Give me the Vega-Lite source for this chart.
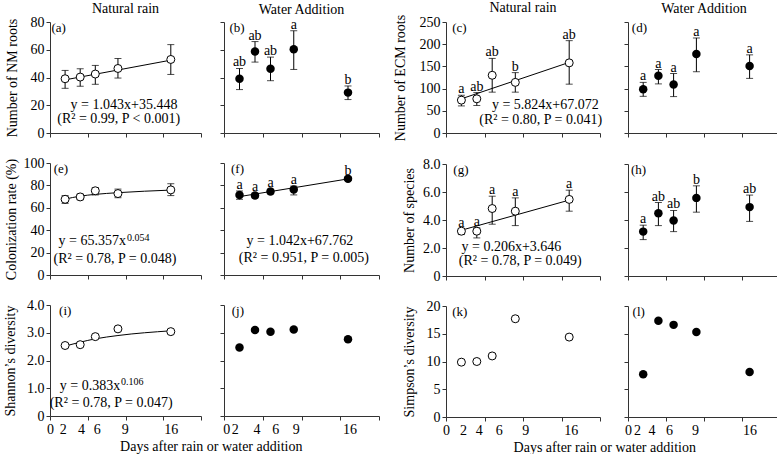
{
"$schema": "https://vega.github.io/schema/vega-lite/v6.json",
"padding": {"left": 2, "top": 1, "right": 0, "bottom": 0},
"config": {
  "font": "Liberation Serif",
  "view": {"stroke": null},
  "axis": {"grid": false, "domainColor": "#333", "tickColor": "#333", "tickSize": 4, "labelFont": "Liberation Serif", "labelFontSize": 14, "labelColor": "#000", "labelFlush": false, "labelOverlap": false, "labelPadding": 2, "titleFont": "Liberation Serif", "titleFontSize": 14, "titleFontWeight": "normal", "titleColor": "#000"},
  "title": {"font": "Liberation Serif", "fontSize": 14, "fontWeight": "normal", "color": "#000"},
  "text": {"font": "Liberation Serif", "fontSize": 14, "color": "#000"}
},
"datasets": {
  "pts": [
    {"panel":"a","day":2,"value":39.1,"lo":32.2,"hi":45.1},
    {"panel":"a","day":4,"value":40.3,"lo":33.7,"hi":46.3},
    {"panel":"a","day":6,"value":42.5,"lo":35.1,"hi":48.7},
    {"panel":"a","day":9,"value":46.5,"lo":39.6,"hi":53.7},
    {"panel":"a","day":16,"value":53.0,"lo":42.2,"hi":63.7},
    {"panel":"b","day":2,"value":39.1,"lo":31.3,"hi":46.5,"letter":"ab"},
    {"panel":"b","day":4,"value":58.7,"lo":51.1,"hi":65.9,"letter":"ab"},
    {"panel":"b","day":6,"value":46.3,"lo":37.7,"hi":54.7,"letter":"ab"},
    {"panel":"b","day":9,"value":60.4,"lo":45.8,"hi":73.7,"letter":"a"},
    {"panel":"b","day":16,"value":29.1,"lo":24.1,"hi":33.9,"letter":"b"},
    {"panel":"c","day":2,"value":74,"lo":61,"hi":85,"letter":"a"},
    {"panel":"c","day":4,"value":77,"lo":62,"hi":91,"letter":"ab"},
    {"panel":"c","day":6,"value":130,"lo":92,"hi":168,"letter":"ab"},
    {"panel":"c","day":9,"value":114,"lo":92,"hi":136,"letter":"b"},
    {"panel":"c","day":16,"value":158,"lo":110,"hi":208,"letter":"ab"},
    {"panel":"d","day":2,"value":98.5,"lo":82.6,"hi":114,"letter":"a"},
    {"panel":"d","day":4,"value":129,"lo":110.6,"hi":143,"letter":"a"},
    {"panel":"d","day":6,"value":109,"lo":82,"hi":134,"letter":"a"},
    {"panel":"d","day":9,"value":178,"lo":138,"hi":214,"letter":"a"},
    {"panel":"d","day":16,"value":151,"lo":123,"hi":176,"letter":"a"},
    {"panel":"e","day":2,"value":67.6,"lo":63.9,"hi":70.9},
    {"panel":"e","day":4,"value":69.7,"lo":67.2,"hi":72.2},
    {"panel":"e","day":6,"value":75.2,"lo":71.5,"hi":78},
    {"panel":"e","day":9,"value":72.7,"lo":69,"hi":76.7},
    {"panel":"e","day":16,"value":76,"lo":70.9,"hi":81.5},
    {"panel":"f","day":2,"value":71.5,"lo":67.6,"hi":75,"letter":"a"},
    {"panel":"f","day":4,"value":70.9,"lo":68.9,"hi":72.9,"letter":"a"},
    {"panel":"f","day":6,"value":74.5,"lo":72.5,"hi":76.5,"letter":"a"},
    {"panel":"f","day":9,"value":76.4,"lo":71.5,"hi":79.4,"letter":"a"},
    {"panel":"f","day":16,"value":86,"lo":84.5,"hi":87.5,"letter":"b"},
    {"panel":"g","day":2,"value":3.2,"lo":2.96,"hi":3.37,"letter":"a"},
    {"panel":"g","day":4,"value":3.2,"lo":2.72,"hi":3.44,"letter":"a"},
    {"panel":"g","day":6,"value":4.82,"lo":3.7,"hi":5.7,"letter":"a"},
    {"panel":"g","day":9,"value":4.63,"lo":3.6,"hi":5.58,"letter":"a"},
    {"panel":"g","day":16,"value":5.47,"lo":4.63,"hi":6.13,"letter":"a"},
    {"panel":"h","day":2,"value":3.17,"lo":2.6,"hi":3.63,"letter":"a"},
    {"panel":"h","day":4,"value":4.49,"lo":3.6,"hi":5.25,"letter":"ab"},
    {"panel":"h","day":6,"value":3.96,"lo":3.17,"hi":4.68,"letter":"ab"},
    {"panel":"h","day":9,"value":5.58,"lo":4.56,"hi":6.44,"letter":"b"},
    {"panel":"h","day":16,"value":4.92,"lo":3.9,"hi":5.78,"letter":"ab"},
    {"panel":"i","day":2,"value":2.54},
    {"panel":"i","day":4,"value":2.57},
    {"panel":"i","day":6,"value":2.86},
    {"panel":"i","day":9,"value":3.14},
    {"panel":"i","day":16,"value":3.04},
    {"panel":"j","day":2,"value":2.47},
    {"panel":"j","day":4,"value":3.10},
    {"panel":"j","day":6,"value":3.04},
    {"panel":"j","day":9,"value":3.12},
    {"panel":"j","day":16,"value":2.77},
    {"panel":"k","day":2,"value":9.88},
    {"panel":"k","day":4,"value":10.0},
    {"panel":"k","day":6,"value":11.0},
    {"panel":"k","day":9,"value":17.7},
    {"panel":"k","day":16,"value":14.4},
    {"panel":"l","day":2,"value":7.7},
    {"panel":"l","day":4,"value":17.35},
    {"panel":"l","day":6,"value":16.6},
    {"panel":"l","day":9,"value":15.3},
    {"panel":"l","day":16,"value":8.1}
  ],
  "fits": [
    {"panel":"a","day":2,"value":38.3},{"panel":"a","day":16,"value":52.5},
    {"panel":"c","day":2,"value":77},{"panel":"c","day":16,"value":159},
    {"panel":"e","day":2,"value":67.8},{"panel":"e","day":4,"value":70.4},{"panel":"e","day":6,"value":72},{"panel":"e","day":9,"value":73.5},{"panel":"e","day":16,"value":75.8},
    {"panel":"f","day":2,"value":70},{"panel":"f","day":16,"value":85.8},
    {"panel":"g","day":2,"value":3.27},{"panel":"g","day":16,"value":5.42},
    {"panel":"i","day":2,"value":2.52},{"panel":"i","day":4,"value":2.66},{"panel":"i","day":6,"value":2.78},{"panel":"i","day":9,"value":2.9},{"panel":"i","day":16,"value":3.07}
  ],
  "notes": [
    {"panel":"a","kind":"tag","text":"(a)"},{"panel":"a","kind":"eq1","text":"y = 1.043x+35.448"},{"panel":"a","kind":"eq2","text":"(R² = 0.99, P < 0.001)"},
    {"panel":"b","kind":"tag","text":"(b)"},
    {"panel":"c","kind":"tag","text":"(c)"},{"panel":"c","kind":"eq1","text":"y = 5.824x+67.072"},{"panel":"c","kind":"eq2","text":"(R² = 0.80, P = 0.041)"},
    {"panel":"d","kind":"tag","text":"(d)"},
    {"panel":"e","kind":"tag","text":"(e)"},{"panel":"e","kind":"eq1","text":"y = 65.357x"},{"panel":"e","kind":"exp","text":"0.054"},{"panel":"e","kind":"eq2","text":"(R² = 0.78, P = 0.048)"},
    {"panel":"f","kind":"tag","text":"(f)"},{"panel":"f","kind":"eq1","text":"y = 1.042x+67.762"},{"panel":"f","kind":"eq2","text":"(R² = 0.951, P = 0.005)"},
    {"panel":"g","kind":"tag","text":"(g)"},{"panel":"g","kind":"eq1","text":"y = 0.206x+3.646"},{"panel":"g","kind":"eq2","text":"(R² = 0.78, P = 0.049)"},
    {"panel":"h","kind":"tag","text":"(h)"},
    {"panel":"i","kind":"tag","text":"(i)"},{"panel":"i","kind":"eq1","text":"y = 0.383x"},{"panel":"i","kind":"exp","text":"0.106"},{"panel":"i","kind":"eq2","text":"(R² = 0.78, P = 0.047)"},
    {"panel":"j","kind":"tag","text":"(j)"},{"panel":"k","kind":"tag","text":"(k)"},{"panel":"l","kind":"tag","text":"(l)"}
  ]
},
"spacing": 12,
"hconcat": [
{
 "title": {"text": "Days after rain or water addition", "orient": "bottom", "anchor": "middle", "offset": 4, "dx": 20, "font": "Liberation Serif"},
 "columns": 2, "align": "each", "spacing": {"row": 16, "column": 17},
 "concat": [
  {"width": 151, "height": 111, "title": {"text": "Natural rain", "offset": -1, "font": "Liberation Serif"},
   "layer": [
    {"data": {"name": "fits"}, "transform": [{"filter": "datum.panel==='a'"}], "mark": {"type": "line", "color": "black", "strokeWidth": 1},
     "encoding": {"x": {"field": "day", "type": "quantitative", "scale": {"domain": [0,20], "nice": false}, "axis": {"values": [0,5,10,15,20], "labels": false, "title": null}}, "y": {"field": "value", "type": "quantitative", "scale": {"domain": [0,80], "nice": false}, "axis": {"values": [0,20,40,60,80], "title": "Number of NM roots", "titleX": -31}}}},
    {"data": {"name": "pts"}, "transform": [{"filter": "datum.panel==='a'"}], "mark": {"type": "errorbar", "color": "black", "ticks": {"size": 7}},
     "encoding": {"x": {"field": "day", "type": "quantitative", "scale": {"domain": [0,20], "nice": false}, "axis": {"values": [0,5,10,15,20], "labels": false, "title": null}}, "y": {"field": "lo", "type": "quantitative", "scale": {"domain": [0,80], "nice": false}, "axis": {"values": [0,20,40,60,80], "title": "Number of NM roots", "titleX": -31}}, "y2": {"field": "hi"}}},
    {"data": {"name": "pts"}, "transform": [{"filter": "datum.panel==='a'"}], "mark": {"type": "circle", "size": 64, "fill": "white", "stroke": "black", "strokeWidth": 1, "opacity": 1},
     "encoding": {"x": {"field": "day", "type": "quantitative", "scale": {"domain": [0,20], "nice": false}, "axis": {"values": [0,5,10,15,20], "labels": false, "title": null}}, "y": {"field": "value", "type": "quantitative", "scale": {"domain": [0,80], "nice": false}, "axis": {"values": [0,20,40,60,80], "title": "Number of NM roots", "titleX": -31}}}},
    {"data": {"name": "notes"}, "transform": [{"filter": "datum.panel==='a'&&datum.kind==='tag'"}], "mark": {"type": "text", "align": "left", "baseline": "top", "fontSize": 13},
     "encoding": {"x": {"datum": 0.2, "type": "quantitative", "scale": {"domain": [0,20], "nice": false}, "axis": {"values": [0,5,10,15,20], "labels": false, "title": null}}, "y": {"datum": 80, "type": "quantitative", "scale": {"domain": [0,80], "nice": false}, "axis": {"values": [0,20,40,60,80], "title": "Number of NM roots", "titleX": -31}}, "text": {"field": "text"}}},
    {"data": {"name": "notes"}, "transform": [{"filter": "datum.panel==='a'&&datum.kind==='eq1'"}], "mark": {"type": "text", "align": "center", "baseline": "middle"},
     "encoding": {"x": {"datum": 9.8, "type": "quantitative", "scale": {"domain": [0,20], "nice": false}, "axis": {"values": [0,5,10,15,20], "labels": false, "title": null}}, "y": {"datum": 20.2, "type": "quantitative", "scale": {"domain": [0,80], "nice": false}, "axis": {"values": [0,20,40,60,80], "title": "Number of NM roots", "titleX": -31}}, "text": {"field": "text"}}},
    {"data": {"name": "notes"}, "transform": [{"filter": "datum.panel==='a'&&datum.kind==='eq2'"}], "mark": {"type": "text", "align": "center", "baseline": "middle"},
     "encoding": {"x": {"datum": 9.1, "type": "quantitative", "scale": {"domain": [0,20], "nice": false}, "axis": {"values": [0,5,10,15,20], "labels": false, "title": null}}, "y": {"datum": 9.9, "type": "quantitative", "scale": {"domain": [0,80], "nice": false}, "axis": {"values": [0,20,40,60,80], "title": "Number of NM roots", "titleX": -31}}, "text": {"field": "text"}}}
   ]},
  {"width": 155, "height": 111, "title": {"text": "Water Addition", "offset": 1, "font": "Liberation Serif"},
   "layer": [
    {"data": {"name": "pts"}, "transform": [{"filter": "datum.panel==='b'"}], "mark": {"type": "errorbar", "color": "black", "ticks": {"size": 7}},
     "encoding": {"x": {"field": "day", "type": "quantitative", "scale": {"domain": [0,20], "nice": false}, "axis": {"values": [0,5,10,15,20], "labels": false, "title": null}}, "y": {"field": "lo", "type": "quantitative", "scale": {"domain": [0,80], "nice": false}, "axis": {"values": [0,20,40,60,80], "labels": false, "title": null}}, "y2": {"field": "hi"}}},
    {"data": {"name": "pts"}, "transform": [{"filter": "datum.panel==='b'"}], "mark": {"type": "circle", "size": 72, "color": "black", "opacity": 1},
     "encoding": {"x": {"field": "day", "type": "quantitative", "scale": {"domain": [0,20], "nice": false}, "axis": {"values": [0,5,10,15,20], "labels": false, "title": null}}, "y": {"field": "value", "type": "quantitative", "scale": {"domain": [0,80], "nice": false}, "axis": {"values": [0,20,40,60,80], "labels": false, "title": null}}}},
    {"data": {"name": "pts"}, "transform": [{"filter": "datum.panel==='b'"}], "mark": {"type": "text", "baseline": "alphabetic", "dy": -2},
     "encoding": {"x": {"field": "day", "type": "quantitative", "scale": {"domain": [0,20], "nice": false}, "axis": {"values": [0,5,10,15,20], "labels": false, "title": null}}, "y": {"field": "hi", "type": "quantitative", "scale": {"domain": [0,80], "nice": false}, "axis": {"values": [0,20,40,60,80], "labels": false, "title": null}}, "text": {"field": "letter"}}},
    {"data": {"name": "notes"}, "transform": [{"filter": "datum.panel==='b'&&datum.kind==='tag'"}], "mark": {"type": "text", "align": "left", "baseline": "top", "fontSize": 13},
     "encoding": {"x": {"datum": 0.7, "type": "quantitative", "scale": {"domain": [0,20], "nice": false}, "axis": {"values": [0,5,10,15,20], "labels": false, "title": null}}, "y": {"datum": 80, "type": "quantitative", "scale": {"domain": [0,80], "nice": false}, "axis": {"values": [0,20,40,60,80], "labels": false, "title": null}}, "text": {"field": "text"}}}
   ]},
  {"width": 151, "height": 112,
   "layer": [
    {"data": {"name": "fits"}, "transform": [{"filter": "datum.panel==='e'"}], "mark": {"type": "line", "color": "black", "strokeWidth": 1, "interpolate": "monotone"},
     "encoding": {"x": {"field": "day", "type": "quantitative", "scale": {"domain": [0,20], "nice": false}, "axis": {"values": [0,5,10,15,20], "labels": false, "title": null}}, "y": {"field": "value", "type": "quantitative", "scale": {"domain": [0,100], "nice": false}, "axis": {"values": [0,20,40,60,80,100], "title": "Colonization rate (%)", "titleX": -32}}}},
    {"data": {"name": "pts"}, "transform": [{"filter": "datum.panel==='e'"}], "mark": {"type": "errorbar", "color": "black", "ticks": {"size": 7}},
     "encoding": {"x": {"field": "day", "type": "quantitative", "scale": {"domain": [0,20], "nice": false}, "axis": {"values": [0,5,10,15,20], "labels": false, "title": null}}, "y": {"field": "lo", "type": "quantitative", "scale": {"domain": [0,100], "nice": false}, "axis": {"values": [0,20,40,60,80,100], "title": "Colonization rate (%)", "titleX": -32}}, "y2": {"field": "hi"}}},
    {"data": {"name": "pts"}, "transform": [{"filter": "datum.panel==='e'"}], "mark": {"type": "circle", "size": 64, "fill": "white", "stroke": "black", "strokeWidth": 1, "opacity": 1},
     "encoding": {"x": {"field": "day", "type": "quantitative", "scale": {"domain": [0,20], "nice": false}, "axis": {"values": [0,5,10,15,20], "labels": false, "title": null}}, "y": {"field": "value", "type": "quantitative", "scale": {"domain": [0,100], "nice": false}, "axis": {"values": [0,20,40,60,80,100], "title": "Colonization rate (%)", "titleX": -32}}}},
    {"data": {"name": "notes"}, "transform": [{"filter": "datum.panel==='e'&&datum.kind==='tag'"}], "mark": {"type": "text", "align": "left", "baseline": "top", "fontSize": 13},
     "encoding": {"x": {"datum": 0.5, "type": "quantitative", "scale": {"domain": [0,20], "nice": false}, "axis": {"values": [0,5,10,15,20], "labels": false, "title": null}}, "y": {"datum": 100, "type": "quantitative", "scale": {"domain": [0,100], "nice": false}, "axis": {"values": [0,20,40,60,80,100], "title": "Colonization rate (%)", "titleX": -32}}, "text": {"field": "text"}}},
    {"data": {"name": "notes"}, "transform": [{"filter": "datum.panel==='e'&&datum.kind==='eq1'"}], "mark": {"type": "text", "align": "right", "baseline": "middle"},
     "encoding": {"x": {"datum": 10.07, "type": "quantitative", "scale": {"domain": [0,20], "nice": false}, "axis": {"values": [0,5,10,15,20], "labels": false, "title": null}}, "y": {"datum": 30.5, "type": "quantitative", "scale": {"domain": [0,100], "nice": false}, "axis": {"values": [0,20,40,60,80,100], "title": "Colonization rate (%)", "titleX": -32}}, "text": {"field": "text"}}},
    {"data": {"name": "notes"}, "transform": [{"filter": "datum.panel==='e'&&datum.kind==='exp'"}], "mark": {"type": "text", "align": "left", "baseline": "middle", "fontSize": 10},
     "encoding": {"x": {"datum": 10.2, "type": "quantitative", "scale": {"domain": [0,20], "nice": false}, "axis": {"values": [0,5,10,15,20], "labels": false, "title": null}}, "y": {"datum": 33.3, "type": "quantitative", "scale": {"domain": [0,100], "nice": false}, "axis": {"values": [0,20,40,60,80,100], "title": "Colonization rate (%)", "titleX": -32}}, "text": {"field": "text"}}},
    {"data": {"name": "notes"}, "transform": [{"filter": "datum.panel==='e'&&datum.kind==='eq2'"}], "mark": {"type": "text", "align": "center", "baseline": "middle"},
     "encoding": {"x": {"datum": 8.6, "type": "quantitative", "scale": {"domain": [0,20], "nice": false}, "axis": {"values": [0,5,10,15,20], "labels": false, "title": null}}, "y": {"datum": 14.5, "type": "quantitative", "scale": {"domain": [0,100], "nice": false}, "axis": {"values": [0,20,40,60,80,100], "title": "Colonization rate (%)", "titleX": -32}}, "text": {"field": "text"}}}
   ]},
  {"width": 155, "height": 112,
   "layer": [
    {"data": {"name": "fits"}, "transform": [{"filter": "datum.panel==='f'"}], "mark": {"type": "line", "color": "black", "strokeWidth": 1},
     "encoding": {"x": {"field": "day", "type": "quantitative", "scale": {"domain": [0,20], "nice": false}, "axis": {"values": [0,5,10,15,20], "labels": false, "title": null}}, "y": {"field": "value", "type": "quantitative", "scale": {"domain": [0,100], "nice": false}, "axis": {"values": [0,20,40,60,80,100], "labels": false, "title": null}}}},
    {"data": {"name": "pts"}, "transform": [{"filter": "datum.panel==='f'"}], "mark": {"type": "errorbar", "color": "black", "ticks": {"size": 7}},
     "encoding": {"x": {"field": "day", "type": "quantitative", "scale": {"domain": [0,20], "nice": false}, "axis": {"values": [0,5,10,15,20], "labels": false, "title": null}}, "y": {"field": "lo", "type": "quantitative", "scale": {"domain": [0,100], "nice": false}, "axis": {"values": [0,20,40,60,80,100], "labels": false, "title": null}}, "y2": {"field": "hi"}}},
    {"data": {"name": "pts"}, "transform": [{"filter": "datum.panel==='f'"}], "mark": {"type": "circle", "size": 72, "color": "black", "opacity": 1},
     "encoding": {"x": {"field": "day", "type": "quantitative", "scale": {"domain": [0,20], "nice": false}, "axis": {"values": [0,5,10,15,20], "labels": false, "title": null}}, "y": {"field": "value", "type": "quantitative", "scale": {"domain": [0,100], "nice": false}, "axis": {"values": [0,20,40,60,80,100], "labels": false, "title": null}}}},
    {"data": {"name": "pts"}, "transform": [{"filter": "datum.panel==='f'"}], "mark": {"type": "text", "baseline": "alphabetic", "dy": -2},
     "encoding": {"x": {"field": "day", "type": "quantitative", "scale": {"domain": [0,20], "nice": false}, "axis": {"values": [0,5,10,15,20], "labels": false, "title": null}}, "y": {"field": "hi", "type": "quantitative", "scale": {"domain": [0,100], "nice": false}, "axis": {"values": [0,20,40,60,80,100], "labels": false, "title": null}}, "text": {"field": "letter"}}},
    {"data": {"name": "notes"}, "transform": [{"filter": "datum.panel==='f'&&datum.kind==='tag'"}], "mark": {"type": "text", "align": "left", "baseline": "top", "fontSize": 13},
     "encoding": {"x": {"datum": 0.9, "type": "quantitative", "scale": {"domain": [0,20], "nice": false}, "axis": {"values": [0,5,10,15,20], "labels": false, "title": null}}, "y": {"datum": 100, "type": "quantitative", "scale": {"domain": [0,100], "nice": false}, "axis": {"values": [0,20,40,60,80,100], "labels": false, "title": null}}, "text": {"field": "text"}}},
    {"data": {"name": "notes"}, "transform": [{"filter": "datum.panel==='f'&&datum.kind==='eq1'"}], "mark": {"type": "text", "align": "center", "baseline": "middle"},
     "encoding": {"x": {"datum": 9.8, "type": "quantitative", "scale": {"domain": [0,20], "nice": false}, "axis": {"values": [0,5,10,15,20], "labels": false, "title": null}}, "y": {"datum": 30.5, "type": "quantitative", "scale": {"domain": [0,100], "nice": false}, "axis": {"values": [0,20,40,60,80,100], "labels": false, "title": null}}, "text": {"field": "text"}}},
    {"data": {"name": "notes"}, "transform": [{"filter": "datum.panel==='f'&&datum.kind==='eq2'"}], "mark": {"type": "text", "align": "center", "baseline": "middle"},
     "encoding": {"x": {"datum": 10.3, "type": "quantitative", "scale": {"domain": [0,20], "nice": false}, "axis": {"values": [0,5,10,15,20], "labels": false, "title": null}}, "y": {"datum": 15.5, "type": "quantitative", "scale": {"domain": [0,100], "nice": false}, "axis": {"values": [0,20,40,60,80,100], "labels": false, "title": null}}, "text": {"field": "text"}}}
   ]},
  {"width": 151, "height": 111,
   "layer": [
    {"data": {"name": "fits"}, "transform": [{"filter": "datum.panel==='i'"}], "mark": {"type": "line", "color": "black", "strokeWidth": 1, "interpolate": "monotone"},
     "encoding": {"x": {"field": "day", "type": "quantitative", "scale": {"domain": [0,20], "nice": false}, "axis": {"values": [0,1.7,4.1,5,6.2,9.9,10,15,16,20], "title": null, "labelExpr": "datum.value===0?'0':datum.value===1.7?'2':datum.value===4.1?'4':datum.value===6.2?'6':datum.value===9.9?'9':datum.value===16?'16':''", "tickOpacity": {"condition": {"test": "datum.value % 5 === 0", "value": 1}, "value": 0}}}, "y": {"field": "value", "type": "quantitative", "scale": {"domain": [0,4], "nice": false}, "axis": {"values": [0,1,2,3,4], "labelExpr": "datum.value===0?'0':format(datum.value,'.1f')", "title": "Shannon’s diversity", "titleX": -33}}}},
    {"data": {"name": "pts"}, "transform": [{"filter": "datum.panel==='i'"}], "mark": {"type": "circle", "size": 64, "fill": "white", "stroke": "black", "strokeWidth": 1, "opacity": 1},
     "encoding": {"x": {"field": "day", "type": "quantitative", "scale": {"domain": [0,20], "nice": false}, "axis": {"values": [0,1.7,4.1,5,6.2,9.9,10,15,16,20], "title": null, "labelExpr": "datum.value===0?'0':datum.value===1.7?'2':datum.value===4.1?'4':datum.value===6.2?'6':datum.value===9.9?'9':datum.value===16?'16':''", "tickOpacity": {"condition": {"test": "datum.value % 5 === 0", "value": 1}, "value": 0}}}, "y": {"field": "value", "type": "quantitative", "scale": {"domain": [0,4], "nice": false}, "axis": {"values": [0,1,2,3,4], "labelExpr": "datum.value===0?'0':format(datum.value,'.1f')", "title": "Shannon’s diversity", "titleX": -33}}}},
    {"data": {"name": "notes"}, "transform": [{"filter": "datum.panel==='i'&&datum.kind==='tag'"}], "mark": {"type": "text", "align": "left", "baseline": "top", "fontSize": 13},
     "encoding": {"x": {"datum": 1.2, "type": "quantitative", "scale": {"domain": [0,20], "nice": false}, "axis": {"values": [0,1.7,4.1,5,6.2,9.9,10,15,16,20], "title": null, "labelExpr": "datum.value===0?'0':datum.value===1.7?'2':datum.value===4.1?'4':datum.value===6.2?'6':datum.value===9.9?'9':datum.value===16?'16':''", "tickOpacity": {"condition": {"test": "datum.value % 5 === 0", "value": 1}, "value": 0}}}, "y": {"datum": 4, "type": "quantitative", "scale": {"domain": [0,4], "nice": false}, "axis": {"values": [0,1,2,3,4], "labelExpr": "datum.value===0?'0':format(datum.value,'.1f')", "title": "Shannon’s diversity", "titleX": -33}}, "text": {"field": "text"}}},
    {"data": {"name": "notes"}, "transform": [{"filter": "datum.panel==='i'&&datum.kind==='eq1'"}], "mark": {"type": "text", "align": "right", "baseline": "middle"},
     "encoding": {"x": {"datum": 9.3, "type": "quantitative", "scale": {"domain": [0,20], "nice": false}, "axis": {"values": [0,1.7,4.1,5,6.2,9.9,10,15,16,20], "title": null, "labelExpr": "datum.value===0?'0':datum.value===1.7?'2':datum.value===4.1?'4':datum.value===6.2?'6':datum.value===9.9?'9':datum.value===16?'16':''", "tickOpacity": {"condition": {"test": "datum.value % 5 === 0", "value": 1}, "value": 0}}}, "y": {"datum": 1.08, "type": "quantitative", "scale": {"domain": [0,4], "nice": false}, "axis": {"values": [0,1,2,3,4], "labelExpr": "datum.value===0?'0':format(datum.value,'.1f')", "title": "Shannon’s diversity", "titleX": -33}}, "text": {"field": "text"}}},
    {"data": {"name": "notes"}, "transform": [{"filter": "datum.panel==='i'&&datum.kind==='exp'"}], "mark": {"type": "text", "align": "left", "baseline": "middle", "fontSize": 10},
     "encoding": {"x": {"datum": 9.4, "type": "quantitative", "scale": {"domain": [0,20], "nice": false}, "axis": {"values": [0,1.7,4.1,5,6.2,9.9,10,15,16,20], "title": null, "labelExpr": "datum.value===0?'0':datum.value===1.7?'2':datum.value===4.1?'4':datum.value===6.2?'6':datum.value===9.9?'9':datum.value===16?'16':''", "tickOpacity": {"condition": {"test": "datum.value % 5 === 0", "value": 1}, "value": 0}}}, "y": {"datum": 1.21, "type": "quantitative", "scale": {"domain": [0,4], "nice": false}, "axis": {"values": [0,1,2,3,4], "labelExpr": "datum.value===0?'0':format(datum.value,'.1f')", "title": "Shannon’s diversity", "titleX": -33}}, "text": {"field": "text"}}},
    {"data": {"name": "notes"}, "transform": [{"filter": "datum.panel==='i'&&datum.kind==='eq2'"}], "mark": {"type": "text", "align": "center", "baseline": "middle"},
     "encoding": {"x": {"datum": 8.1, "type": "quantitative", "scale": {"domain": [0,20], "nice": false}, "axis": {"values": [0,1.7,4.1,5,6.2,9.9,10,15,16,20], "title": null, "labelExpr": "datum.value===0?'0':datum.value===1.7?'2':datum.value===4.1?'4':datum.value===6.2?'6':datum.value===9.9?'9':datum.value===16?'16':''", "tickOpacity": {"condition": {"test": "datum.value % 5 === 0", "value": 1}, "value": 0}}}, "y": {"datum": 0.48, "type": "quantitative", "scale": {"domain": [0,4], "nice": false}, "axis": {"values": [0,1,2,3,4], "labelExpr": "datum.value===0?'0':format(datum.value,'.1f')", "title": "Shannon’s diversity", "titleX": -33}}, "text": {"field": "text"}}}
   ]},
  {"width": 155, "height": 111,
   "layer": [
    {"data": {"name": "pts"}, "transform": [{"filter": "datum.panel==='j'"}], "mark": {"type": "circle", "size": 72, "color": "black", "opacity": 1},
     "encoding": {"x": {"field": "day", "type": "quantitative", "scale": {"domain": [0,20], "nice": false}, "axis": {"values": [0,0.3,1.4,4.2,5,6.6,9.25,10,15,16.2,20], "title": null, "labelExpr": "datum.value===0.3?'0':datum.value===1.4?'2':datum.value===4.2?'4':datum.value===6.6?'6':datum.value===9.25?'9':datum.value===16.2?'16':''", "tickOpacity": {"condition": {"test": "datum.value % 5 === 0", "value": 1}, "value": 0}}}, "y": {"field": "value", "type": "quantitative", "scale": {"domain": [0,4], "nice": false}, "axis": {"values": [0,1,2,3,4], "labels": false, "title": null}}}},
    {"data": {"name": "notes"}, "transform": [{"filter": "datum.panel==='j'&&datum.kind==='tag'"}], "mark": {"type": "text", "align": "left", "baseline": "top", "fontSize": 13},
     "encoding": {"x": {"datum": 1.0, "type": "quantitative", "scale": {"domain": [0,20], "nice": false}, "axis": {"values": [0,0.3,1.4,4.2,5,6.6,9.25,10,15,16.2,20], "title": null, "labelExpr": "datum.value===0.3?'0':datum.value===1.4?'2':datum.value===4.2?'4':datum.value===6.6?'6':datum.value===9.25?'9':datum.value===16.2?'16':''", "tickOpacity": {"condition": {"test": "datum.value % 5 === 0", "value": 1}, "value": 0}}}, "y": {"datum": 4, "type": "quantitative", "scale": {"domain": [0,4], "nice": false}, "axis": {"values": [0,1,2,3,4], "labels": false, "title": null}}, "text": {"field": "text"}}}
   ]}
 ]
},
{
 "title": {"text": "Days after rain or water addition", "orient": "bottom", "anchor": "middle", "offset": 4, "dx": 18, "font": "Liberation Serif"},
 "columns": 2, "align": "each", "spacing": {"row": 16, "column": 20},
 "concat": [
  {"width": 154, "height": 111, "title": {"text": "Natural rain", "offset": -1, "font": "Liberation Serif"},
   "layer": [
    {"data": {"name": "fits"}, "transform": [{"filter": "datum.panel==='c'"}], "mark": {"type": "line", "color": "black", "strokeWidth": 1},
     "encoding": {"x": {"field": "day", "type": "quantitative", "scale": {"domain": [0,20], "nice": false}, "axis": {"values": [0,5,10,15,20], "labels": false, "title": null}}, "y": {"field": "value", "type": "quantitative", "scale": {"domain": [0,250], "nice": false}, "axis": {"values": [0,50,100,150,200,250], "title": "Number of ECM roots", "titleX": -39}}}},
    {"data": {"name": "pts"}, "transform": [{"filter": "datum.panel==='c'"}], "mark": {"type": "errorbar", "color": "black", "ticks": {"size": 7}},
     "encoding": {"x": {"field": "day", "type": "quantitative", "scale": {"domain": [0,20], "nice": false}, "axis": {"values": [0,5,10,15,20], "labels": false, "title": null}}, "y": {"field": "lo", "type": "quantitative", "scale": {"domain": [0,250], "nice": false}, "axis": {"values": [0,50,100,150,200,250], "title": "Number of ECM roots", "titleX": -39}}, "y2": {"field": "hi"}}},
    {"data": {"name": "pts"}, "transform": [{"filter": "datum.panel==='c'"}], "mark": {"type": "circle", "size": 64, "fill": "white", "stroke": "black", "strokeWidth": 1, "opacity": 1},
     "encoding": {"x": {"field": "day", "type": "quantitative", "scale": {"domain": [0,20], "nice": false}, "axis": {"values": [0,5,10,15,20], "labels": false, "title": null}}, "y": {"field": "value", "type": "quantitative", "scale": {"domain": [0,250], "nice": false}, "axis": {"values": [0,50,100,150,200,250], "title": "Number of ECM roots", "titleX": -39}}}},
    {"data": {"name": "pts"}, "transform": [{"filter": "datum.panel==='c'"}], "mark": {"type": "text", "baseline": "alphabetic", "dy": -2},
     "encoding": {"x": {"field": "day", "type": "quantitative", "scale": {"domain": [0,20], "nice": false}, "axis": {"values": [0,5,10,15,20], "labels": false, "title": null}}, "y": {"field": "hi", "type": "quantitative", "scale": {"domain": [0,250], "nice": false}, "axis": {"values": [0,50,100,150,200,250], "title": "Number of ECM roots", "titleX": -39}}, "text": {"field": "letter"}}},
    {"data": {"name": "notes"}, "transform": [{"filter": "datum.panel==='c'&&datum.kind==='tag'"}], "mark": {"type": "text", "align": "left", "baseline": "top", "fontSize": 13},
     "encoding": {"x": {"datum": 0.8, "type": "quantitative", "scale": {"domain": [0,20], "nice": false}, "axis": {"values": [0,5,10,15,20], "labels": false, "title": null}}, "y": {"datum": 250, "type": "quantitative", "scale": {"domain": [0,250], "nice": false}, "axis": {"values": [0,50,100,150,200,250], "title": "Number of ECM roots", "titleX": -39}}, "text": {"field": "text"}}},
    {"data": {"name": "notes"}, "transform": [{"filter": "datum.panel==='c'&&datum.kind==='eq1'"}], "mark": {"type": "text", "align": "center", "baseline": "middle"},
     "encoding": {"x": {"datum": 12.9, "type": "quantitative", "scale": {"domain": [0,20], "nice": false}, "axis": {"values": [0,5,10,15,20], "labels": false, "title": null}}, "y": {"datum": 62, "type": "quantitative", "scale": {"domain": [0,250], "nice": false}, "axis": {"values": [0,50,100,150,200,250], "title": "Number of ECM roots", "titleX": -39}}, "text": {"field": "text"}}},
    {"data": {"name": "notes"}, "transform": [{"filter": "datum.panel==='c'&&datum.kind==='eq2'"}], "mark": {"type": "text", "align": "center", "baseline": "middle"},
     "encoding": {"x": {"datum": 12.3, "type": "quantitative", "scale": {"domain": [0,20], "nice": false}, "axis": {"values": [0,5,10,15,20], "labels": false, "title": null}}, "y": {"datum": 30, "type": "quantitative", "scale": {"domain": [0,250], "nice": false}, "axis": {"values": [0,50,100,150,200,250], "title": "Number of ECM roots", "titleX": -39}}, "text": {"field": "text"}}}
   ]},
  {"width": 152, "height": 111, "title": {"text": "Water Addition", "offset": 6, "font": "Liberation Serif"},
   "layer": [
    {"data": {"name": "pts"}, "transform": [{"filter": "datum.panel==='d'"}], "mark": {"type": "errorbar", "color": "black", "ticks": {"size": 7}},
     "encoding": {"x": {"field": "day", "type": "quantitative", "scale": {"domain": [0,20], "nice": false}, "axis": {"values": [0,5,10,15,20], "labels": false, "title": null}}, "y": {"field": "lo", "type": "quantitative", "scale": {"domain": [0,250], "nice": false}, "axis": {"values": [0,50,100,150,200,250], "labels": false, "title": null}}, "y2": {"field": "hi"}}},
    {"data": {"name": "pts"}, "transform": [{"filter": "datum.panel==='d'"}], "mark": {"type": "circle", "size": 72, "color": "black", "opacity": 1},
     "encoding": {"x": {"field": "day", "type": "quantitative", "scale": {"domain": [0,20], "nice": false}, "axis": {"values": [0,5,10,15,20], "labels": false, "title": null}}, "y": {"field": "value", "type": "quantitative", "scale": {"domain": [0,250], "nice": false}, "axis": {"values": [0,50,100,150,200,250], "labels": false, "title": null}}}},
    {"data": {"name": "pts"}, "transform": [{"filter": "datum.panel==='d'"}], "mark": {"type": "text", "baseline": "alphabetic", "dy": -2},
     "encoding": {"x": {"field": "day", "type": "quantitative", "scale": {"domain": [0,20], "nice": false}, "axis": {"values": [0,5,10,15,20], "labels": false, "title": null}}, "y": {"field": "hi", "type": "quantitative", "scale": {"domain": [0,250], "nice": false}, "axis": {"values": [0,50,100,150,200,250], "labels": false, "title": null}}, "text": {"field": "letter"}}},
    {"data": {"name": "notes"}, "transform": [{"filter": "datum.panel==='d'&&datum.kind==='tag'"}], "mark": {"type": "text", "align": "left", "baseline": "top", "fontSize": 13},
     "encoding": {"x": {"datum": 0.5, "type": "quantitative", "scale": {"domain": [0,20], "nice": false}, "axis": {"values": [0,5,10,15,20], "labels": false, "title": null}}, "y": {"datum": 250, "type": "quantitative", "scale": {"domain": [0,250], "nice": false}, "axis": {"values": [0,50,100,150,200,250], "labels": false, "title": null}}, "text": {"field": "text"}}}
   ]},
  {"width": 154, "height": 112,
   "layer": [
    {"data": {"name": "fits"}, "transform": [{"filter": "datum.panel==='g'"}], "mark": {"type": "line", "color": "black", "strokeWidth": 1},
     "encoding": {"x": {"field": "day", "type": "quantitative", "scale": {"domain": [0,20], "nice": false}, "axis": {"values": [0,5,10,15,20], "labels": false, "title": null}}, "y": {"field": "value", "type": "quantitative", "scale": {"domain": [0,8], "nice": false}, "axis": {"values": [0,2,4,6,8], "labelExpr": "datum.value===0?'0':format(datum.value,'.1f')", "title": "Number of species", "titleX": -30}}}},
    {"data": {"name": "pts"}, "transform": [{"filter": "datum.panel==='g'"}], "mark": {"type": "errorbar", "color": "black", "ticks": {"size": 7}},
     "encoding": {"x": {"field": "day", "type": "quantitative", "scale": {"domain": [0,20], "nice": false}, "axis": {"values": [0,5,10,15,20], "labels": false, "title": null}}, "y": {"field": "lo", "type": "quantitative", "scale": {"domain": [0,8], "nice": false}, "axis": {"values": [0,2,4,6,8], "labelExpr": "datum.value===0?'0':format(datum.value,'.1f')", "title": "Number of species", "titleX": -30}}, "y2": {"field": "hi"}}},
    {"data": {"name": "pts"}, "transform": [{"filter": "datum.panel==='g'"}], "mark": {"type": "circle", "size": 64, "fill": "white", "stroke": "black", "strokeWidth": 1, "opacity": 1},
     "encoding": {"x": {"field": "day", "type": "quantitative", "scale": {"domain": [0,20], "nice": false}, "axis": {"values": [0,5,10,15,20], "labels": false, "title": null}}, "y": {"field": "value", "type": "quantitative", "scale": {"domain": [0,8], "nice": false}, "axis": {"values": [0,2,4,6,8], "labelExpr": "datum.value===0?'0':format(datum.value,'.1f')", "title": "Number of species", "titleX": -30}}}},
    {"data": {"name": "pts"}, "transform": [{"filter": "datum.panel==='g'"}], "mark": {"type": "text", "baseline": "alphabetic", "dy": -2},
     "encoding": {"x": {"field": "day", "type": "quantitative", "scale": {"domain": [0,20], "nice": false}, "axis": {"values": [0,5,10,15,20], "labels": false, "title": null}}, "y": {"field": "hi", "type": "quantitative", "scale": {"domain": [0,8], "nice": false}, "axis": {"values": [0,2,4,6,8], "labelExpr": "datum.value===0?'0':format(datum.value,'.1f')", "title": "Number of species", "titleX": -30}}, "text": {"field": "letter"}}},
    {"data": {"name": "notes"}, "transform": [{"filter": "datum.panel==='g'&&datum.kind==='tag'"}], "mark": {"type": "text", "align": "left", "baseline": "top", "fontSize": 13},
     "encoding": {"x": {"datum": 0.95, "type": "quantitative", "scale": {"domain": [0,20], "nice": false}, "axis": {"values": [0,5,10,15,20], "labels": false, "title": null}}, "y": {"datum": 8, "type": "quantitative", "scale": {"domain": [0,8], "nice": false}, "axis": {"values": [0,2,4,6,8], "labelExpr": "datum.value===0?'0':format(datum.value,'.1f')", "title": "Number of species", "titleX": -30}}, "text": {"field": "text"}}},
    {"data": {"name": "notes"}, "transform": [{"filter": "datum.panel==='g'&&datum.kind==='eq1'"}], "mark": {"type": "text", "align": "center", "baseline": "middle"},
     "encoding": {"x": {"datum": 8.5, "type": "quantitative", "scale": {"domain": [0,20], "nice": false}, "axis": {"values": [0,5,10,15,20], "labels": false, "title": null}}, "y": {"datum": 2.08, "type": "quantitative", "scale": {"domain": [0,8], "nice": false}, "axis": {"values": [0,2,4,6,8], "labelExpr": "datum.value===0?'0':format(datum.value,'.1f')", "title": "Number of species", "titleX": -30}}, "text": {"field": "text"}}},
    {"data": {"name": "notes"}, "transform": [{"filter": "datum.panel==='g'&&datum.kind==='eq2'"}], "mark": {"type": "text", "align": "center", "baseline": "middle"},
     "encoding": {"x": {"datum": 9.65, "type": "quantitative", "scale": {"domain": [0,20], "nice": false}, "axis": {"values": [0,5,10,15,20], "labels": false, "title": null}}, "y": {"datum": 1.07, "type": "quantitative", "scale": {"domain": [0,8], "nice": false}, "axis": {"values": [0,2,4,6,8], "labelExpr": "datum.value===0?'0':format(datum.value,'.1f')", "title": "Number of species", "titleX": -30}}, "text": {"field": "text"}}}
   ]},
  {"width": 152, "height": 112,
   "layer": [
    {"data": {"name": "pts"}, "transform": [{"filter": "datum.panel==='h'"}], "mark": {"type": "errorbar", "color": "black", "ticks": {"size": 7}},
     "encoding": {"x": {"field": "day", "type": "quantitative", "scale": {"domain": [0,20], "nice": false}, "axis": {"values": [0,5,10,15,20], "labels": false, "title": null}}, "y": {"field": "lo", "type": "quantitative", "scale": {"domain": [0,8], "nice": false}, "axis": {"values": [0,2,4,6,8], "labels": false, "title": null}}, "y2": {"field": "hi"}}},
    {"data": {"name": "pts"}, "transform": [{"filter": "datum.panel==='h'"}], "mark": {"type": "circle", "size": 72, "color": "black", "opacity": 1},
     "encoding": {"x": {"field": "day", "type": "quantitative", "scale": {"domain": [0,20], "nice": false}, "axis": {"values": [0,5,10,15,20], "labels": false, "title": null}}, "y": {"field": "value", "type": "quantitative", "scale": {"domain": [0,8], "nice": false}, "axis": {"values": [0,2,4,6,8], "labels": false, "title": null}}}},
    {"data": {"name": "pts"}, "transform": [{"filter": "datum.panel==='h'"}], "mark": {"type": "text", "baseline": "alphabetic", "dy": -2},
     "encoding": {"x": {"field": "day", "type": "quantitative", "scale": {"domain": [0,20], "nice": false}, "axis": {"values": [0,5,10,15,20], "labels": false, "title": null}}, "y": {"field": "hi", "type": "quantitative", "scale": {"domain": [0,8], "nice": false}, "axis": {"values": [0,2,4,6,8], "labels": false, "title": null}}, "text": {"field": "letter"}}},
    {"data": {"name": "notes"}, "transform": [{"filter": "datum.panel==='h'&&datum.kind==='tag'"}], "mark": {"type": "text", "align": "left", "baseline": "top", "fontSize": 13},
     "encoding": {"x": {"datum": 0.4, "type": "quantitative", "scale": {"domain": [0,20], "nice": false}, "axis": {"values": [0,5,10,15,20], "labels": false, "title": null}}, "y": {"datum": 8, "type": "quantitative", "scale": {"domain": [0,8], "nice": false}, "axis": {"values": [0,2,4,6,8], "labels": false, "title": null}}, "text": {"field": "text"}}}
   ]},
  {"width": 154, "height": 111,
   "layer": [
    {"data": {"name": "pts"}, "transform": [{"filter": "datum.panel==='k'"}], "mark": {"type": "circle", "size": 64, "fill": "white", "stroke": "black", "strokeWidth": 1, "opacity": 1},
     "encoding": {"x": {"field": "day", "type": "quantitative", "scale": {"domain": [0,20], "nice": false}, "axis": {"values": [0,2.2,4.25,5,6.85,10,10.3,15,16.2,20], "title": null, "labelExpr": "datum.value===0?'0':datum.value===2.2?'2':datum.value===4.25?'4':datum.value===6.85?'6':datum.value===10.3?'9':datum.value===16.2?'16':''", "tickOpacity": {"condition": {"test": "datum.value % 5 === 0", "value": 1}, "value": 0}}}, "y": {"field": "value", "type": "quantitative", "scale": {"domain": [0,20], "nice": false}, "axis": {"values": [0,5,10,15,20], "title": "Simpson’s diversity", "titleX": -30}}}},
    {"data": {"name": "notes"}, "transform": [{"filter": "datum.panel==='k'&&datum.kind==='tag'"}], "mark": {"type": "text", "align": "left", "baseline": "top", "fontSize": 13},
     "encoding": {"x": {"datum": 0.8, "type": "quantitative", "scale": {"domain": [0,20], "nice": false}, "axis": {"values": [0,2.2,4.25,5,6.85,10,10.3,15,16.2,20], "title": null, "labelExpr": "datum.value===0?'0':datum.value===2.2?'2':datum.value===4.25?'4':datum.value===6.85?'6':datum.value===10.3?'9':datum.value===16.2?'16':''", "tickOpacity": {"condition": {"test": "datum.value % 5 === 0", "value": 1}, "value": 0}}}, "y": {"datum": 20, "type": "quantitative", "scale": {"domain": [0,20], "nice": false}, "axis": {"values": [0,5,10,15,20], "title": "Simpson’s diversity", "titleX": -30}}, "text": {"field": "text"}}}
   ]},
  {"width": 152, "height": 111,
   "layer": [
    {"data": {"name": "pts"}, "transform": [{"filter": "datum.panel==='l'"}], "mark": {"type": "circle", "size": 72, "color": "black", "opacity": 1},
     "encoding": {"x": {"field": "day", "type": "quantitative", "scale": {"domain": [0,20], "nice": false}, "axis": {"values": [0,1.2,3.1,5,5.4,8.8,10,15,16,20], "title": null, "labelExpr": "datum.value===0?'0':datum.value===1.2?'2':datum.value===3.1?'4':datum.value===5.4?'6':datum.value===8.8?'9':datum.value===16?'16':''", "tickOpacity": {"condition": {"test": "datum.value % 5 === 0", "value": 1}, "value": 0}}}, "y": {"field": "value", "type": "quantitative", "scale": {"domain": [0,20], "nice": false}, "axis": {"values": [0,5,10,15,20], "labels": false, "title": null}}}},
    {"data": {"name": "notes"}, "transform": [{"filter": "datum.panel==='l'&&datum.kind==='tag'"}], "mark": {"type": "text", "align": "left", "baseline": "top", "fontSize": 13},
     "encoding": {"x": {"datum": 0.6, "type": "quantitative", "scale": {"domain": [0,20], "nice": false}, "axis": {"values": [0,1.2,3.1,5,5.4,8.8,10,15,16,20], "title": null, "labelExpr": "datum.value===0?'0':datum.value===1.2?'2':datum.value===3.1?'4':datum.value===5.4?'6':datum.value===8.8?'9':datum.value===16?'16':''", "tickOpacity": {"condition": {"test": "datum.value % 5 === 0", "value": 1}, "value": 0}}}, "y": {"datum": 20, "type": "quantitative", "scale": {"domain": [0,20], "nice": false}, "axis": {"values": [0,5,10,15,20], "labels": false, "title": null}}, "text": {"field": "text"}}}
   ]}
 ]
}
]
}
